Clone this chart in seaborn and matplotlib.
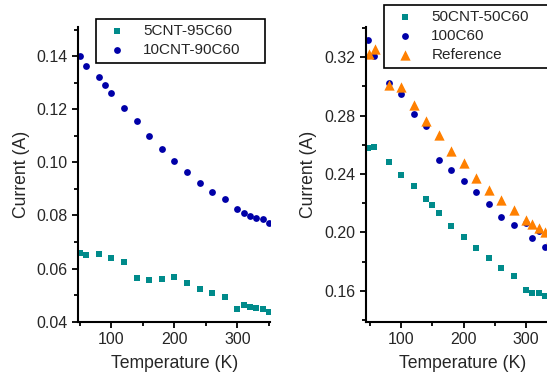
import matplotlib
matplotlib.use("Agg")
import matplotlib.pyplot as plt
import numpy as np
import pandas as pd
import seaborn as sns
from matplotlib.ticker import MultipleLocator, FormatStrFormatter

# data
temp_left = [50, 60, 80, 90, 100, 120, 140, 160, 180, 200, 220, 240, 260, 280, 300, 310, 320, 330, 340, 350]
cnt5 = [0.0657, 0.0650, 0.0655, None, 0.0639, 0.0624, 0.0563, 0.0556, 0.0560, 0.0568,
        0.0545, 0.0522, 0.0507, 0.0492, 0.0447, 0.0462, 0.0455, 0.0452, 0.0448, 0.0435]
cnt10 = [0.1400, 0.1363, 0.1320, 0.1290, 0.1260, 0.1205, 0.1154, 0.1100, 0.1049, 0.1004,
         0.0965, 0.0923, 0.0889, 0.0861, 0.0823, 0.0808, 0.0799, 0.0791, 0.0785, 0.0770]

temp_right = [47, 57, 80, 100, 120, 140, 150, 160, 180, 200, 220, 240, 260, 280, 300, 310, 320, 330]
cnt50 = [0.2577, 0.2586, 0.2481, 0.2390, 0.2315, 0.2226, 0.2184, 0.2136, 0.2046, 0.1970,
         0.1894, 0.1826, 0.1757, 0.1701, 0.1605, 0.1584, 0.1584, 0.1563]
c60 = [0.3315, 0.3209, 0.3026, 0.2947, 0.2809, 0.2726, None, 0.2499, 0.2428, 0.2354,
       0.2274, 0.2191, 0.2108, 0.2050, 0.2062, 0.1963, 0.2009, 0.1901]
temp_ref = [49, 58, 80, 100, 120, 140, 160, 180, 200, 220, 240, 260, 280, 300, 310, 320, 330, 340]
reference = [0.3221, 0.3257, 0.3009, 0.2993, 0.2871, 0.2763, 0.2667, 0.2554, 0.2474, 0.2375,
             0.2292, 0.2223, 0.2156, 0.2088, 0.2060, 0.2030, 0.2000, 0.1960]

left_df = pd.DataFrame({"T": temp_left, "5CNT-95C60": cnt5, "10CNT-90C60": cnt10})
right_df = pd.DataFrame({"T": temp_right, "50CNT-50C60": cnt50, "100C60": c60})
ref_df = pd.DataFrame({"T": temp_ref, "Reference": reference})

sns.set_style("ticks")
plt.rcParams["font.family"] = ["Liberation Sans", "DejaVu Sans"]

teal = "#008B8B"
blue = "#0000A8"
orange = "#FF8000"

fig = plt.figure(figsize=(5.47, 3.80), dpi=100)
ax1 = fig.add_axes([0.1431, 0.1534, 0.3505, 0.7757])
ax2 = fig.add_axes([0.669, 0.1534, 0.352, 0.7757])

sns.scatterplot(data=left_df, x="T", y="5CNT-95C60", ax=ax1, color=teal, marker="s",
                s=16, linewidth=0, label="5CNT-95C60")
sns.scatterplot(data=left_df, x="T", y="10CNT-90C60", ax=ax1, color=blue, marker="o",
                s=24, linewidth=0, label="10CNT-90C60")

sns.scatterplot(data=right_df, x="T", y="50CNT-50C60", ax=ax2, color=teal, marker="s",
                s=16, linewidth=0, label="50CNT-50C60")
sns.scatterplot(data=right_df, x="T", y="100C60", ax=ax2, color=blue, marker="o",
                s=24, linewidth=0, label="100C60")
sns.scatterplot(data=ref_df, x="T", y="Reference", ax=ax2, color=orange, marker="^",
                s=55, linewidth=0, label="Reference")

ax1.set_xlim(47.3, 351.6)
ax1.set_ylim(0.04, 0.151)
ax1.yaxis.set_major_locator(MultipleLocator(0.02))
ax1.yaxis.set_minor_locator(MultipleLocator(0.01))

ax2.set_xlim(43.6, 352)
ax2.set_ylim(0.1388, 0.3407)
ax2.yaxis.set_major_locator(MultipleLocator(0.04))
ax2.yaxis.set_minor_locator(MultipleLocator(0.02))

for ax in (ax1, ax2):
    ax.xaxis.set_major_locator(MultipleLocator(100))
    ax.xaxis.set_minor_locator(MultipleLocator(50))
    ax.yaxis.set_major_formatter(FormatStrFormatter("%.2f"))
    ax.set_xlabel("Temperature (K)", fontsize=12.7, labelpad=6)
    ax.set_ylabel("Current (A)", fontsize=12.7, labelpad=5)
    ax.tick_params(axis="both", which="major", length=4, width=1.3, labelsize=11.5, color="black")
    ax.tick_params(axis="both", which="minor", length=3, width=1.3, color="black")
    for side in ("top", "right"):
        ax.spines[side].set_visible(False)
    for side in ("left", "bottom"):
        ax.spines[side].set_linewidth(1.5)
        ax.spines[side].set_color("black")

leg_kw = dict(loc="upper left", frameon=True, fancybox=False, edgecolor="black",
              fontsize=11, handletextpad=0.75, borderpad=0.35, labelspacing=0.33,
              handlelength=2.0, borderaxespad=0, mode="expand",
              bbox_transform=fig.transFigure)
leg1 = ax1.legend(bbox_to_anchor=(96 / 547, 1 - 19 / 380, 169 / 547, 0.0), **leg_kw)
leg2 = ax2.legend(bbox_to_anchor=(384 / 547, 1 - 5 / 380, 200 / 547, 0.0), **leg_kw)
for leg in (leg1, leg2):
    leg.get_frame().set_linewidth(1.2)
    leg.get_frame().set_alpha(1)

fig.savefig("out.png", dpi=100)
